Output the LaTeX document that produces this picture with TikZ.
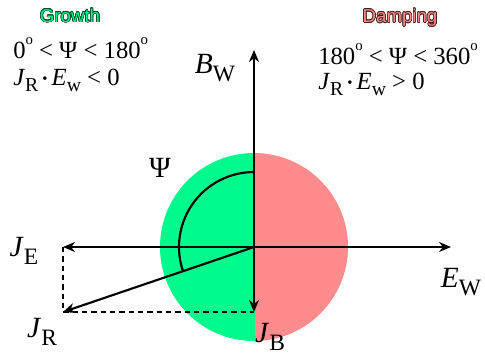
\documentclass[tikz,border=0pt]{standalone}
\usepackage{fontspec}
\setmainfont{Liberation Serif}
\newfontfamily\headfont{Liberation Sans}
\usepackage{graphicx}
\usepackage{contour}
\usetikzlibrary{arrows.meta}
\definecolor{growgreen}{RGB}{0,250,140}
\definecolor{dampred}{RGB}{255,140,140}
\definecolor{growline}{RGB}{0,70,40}
\definecolor{dampline}{RGB}{70,30,30}
\contourlength{0.45pt}
\newcommand{\vsub}[2]{\textit{#1}\raisebox{-0.55ex}{\scalebox{0.8}{#2}}}
\newcommand{\degs}{\raisebox{1.15ex}{\scalebox{0.6}{o}}}
\newcommand{\pdot}{\,\raisebox{0.15ex}{\scalebox{0.6}{\textbullet}}\,}
\tikzset{axis/.style={-{Stealth[length=9pt,width=7.5pt]},line width=1.6pt},
  lbl/.style={font=\fontsize{22}{22}\selectfont,inner sep=0pt},
  cond/.style={font=\fontsize{18.5}{18.5}\selectfont,inner sep=0pt,anchor=base west},
  proj/.style={line width=0.8pt,dash pattern=on 4pt off 3pt},
  head/.style={font=\headfont\fontsize{14}{14}\selectfont,inner sep=0pt}}

\begin{document}
\begin{tikzpicture}[x=0.75pt,y=-0.75pt]
\useasboundingbox (0,0) rectangle (485,358);
\coordinate (O) at (254,247);
% half discs
\begin{scope} \clip (150,140) rectangle (255,350); \fill[growgreen] (O) circle[radius=94]; \end{scope}
\begin{scope} \clip (255,140) rectangle (360,350); \fill[dampred] (O) circle[radius=94]; \end{scope}
% vectors
\coordinate (bw) at (254,50); \coordinate (jb) at (254,312);
\coordinate (je) at (63,247); \coordinate (ew) at (451,247);
\coordinate (jr) at (63,312);
\draw[proj] (je) -- (jr) -- (jb);
\draw[line width=1.6pt] (O) ++(270:75) arc[start angle=270,end angle=161.2,radius=75];
\draw[axis] (O) -- (bw); \draw[axis] (O) -- (jb);
\draw[axis] (O) -- (je); \draw[axis] (O) -- (ew);
\draw[axis] (O) -- (jr);
% labels
\node[lbl] (bwl) at (215,68) {\vsub{B}{W}};
\node[lbl] (jbl) at (270,337) {\vsub{J}{B}};
\node[lbl] (jel) at (24,251) {\vsub{J}{E}};
\node[lbl] (jrl) at (42,332) {\vsub{J}{R}};
\node[lbl] (ewl) at (461,282) {\vsub{E}{W}};
\node[lbl] (psi) at (160,168) {Ψ};
% regions
\node[head] (grow) at (70,16) {\color{growgreen}\contour{growline}{Growth}};
\node[head] (damp) at (400,18) {\color{dampred}\contour{dampline}{Damping}};
\node[cond] (gr1) at (13,58) {0\degs{} < Ψ < 180\degs};
\node[cond] (gr2) at (13,85) {\vsub{J}{R}\pdot\vsub{E}{w} < 0};
\node[cond] (dm1) at (318,64) {180\degs{} < Ψ < 360\degs};
\node[cond] (dm2) at (318,89) {\vsub{J}{R}\pdot\vsub{E}{w} > 0};
\end{tikzpicture}
\end{document}
